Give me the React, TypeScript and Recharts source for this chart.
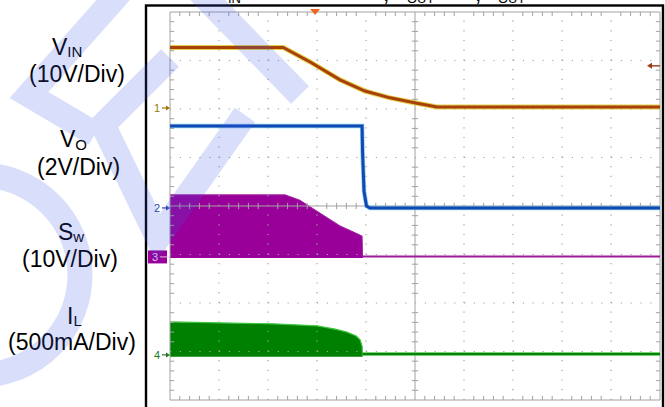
import React from 'react';
import { ComposedChart, XAxis, YAxis, Line, Area, Scatter } from 'recharts';

// every value is in screen divisions: time 0..10, level 0..8
const vinT = [0, 2.31, 2.86, 3.47, 3.98, 4.49, 5.04, 5.45, 10];
const vinV = [7.27, 7.27, 6.97, 6.6, 6.37, 6.23, 6.12, 6.04, 6.04];

const voT = [0, 3.92, 3.93, 3.96, 4.01, 4.08, 10];
const voV = [5.65, 5.65, 5.1, 4.3, 4.0, 3.96, 3.96];

const swT = [0, 2.35, 2.65, 2.96, 3.47, 3.71, 3.92, 3.93];
const swTop = [4.23, 4.23, 4.12, 3.92, 3.59, 3.48, 3.38, 2.93];
const swFloor = 2.93;
const swIdleT = [3.92, 10];
const swIdleV = [2.96, 2.96];

const ilT = [0, 2.1, 3.0, 3.37, 3.61, 3.8, 3.88, 3.92, 3.93];
const ilTop = [1.61, 1.57, 1.53, 1.46, 1.4, 1.32, 1.24, 1.11, 0.89];
const ilFloor = 0.89;
const ilIdleT = [3.93, 10];
const ilIdleV = [0.95, 0.95];

const chNames = ['1', '2', '3', '4'];
const chLevels = [6.02, 3.96, 2.95, 0.93];
const trigTime = 2.96;
const trigLevel = 6.89;

const chColors: Record<string, string> = {
  '1': '#9c7800',
  '2': '#2b4ca6',
  '3': '#990099',
  '4': '#217a21',
};

const pts = (t: number[], v: number[]) => t.map((x, i) => ({ x, y: v[i] }));

// graticule
const MAJOR_X = [1, 2, 3, 4, 6, 7, 8, 9];
const MAJOR_Y = [1, 2, 3, 5, 6, 7];
const AXES_X = [0, 5, 10];
const AXES_Y = [0, 4, 8];
const MINOR_X = Array.from({ length: 51 }, (_, i) => i / 5).filter((_, i) => i % 5 !== 0);
const MINOR_Y = Array.from({ length: 41 }, (_, i) => i / 5).filter((_, i) => i % 5 !== 0);
const T = 0.085;
const C = 0.065;

type Seg = [number, number, number, number];
const segs = (list: Seg[]) =>
  list.flatMap(([x1, y1, x2, y2]) => [
    { x: x1, y: y1 },
    { x: x2, y: y2 },
    { x: x2, y: null },
  ]);

const dottedV = segs(MAJOR_X.map((x) => [x, 0, x, 8] as Seg));
const dottedH = segs(MAJOR_Y.map((y) => [0, y, 10, y] as Seg));
const solidAxes = segs([
  ...AXES_X.map((x) => [x, 0, x, 8] as Seg),
  ...AXES_Y.map((y) => [0, y, 10, y] as Seg),
]);
const minorTicks = segs([
  ...MINOR_X.flatMap((x) => [[x, 8, x, 8 - T], [x, 0, x, T], [x, 4 - C, x, 4 + C]] as Seg[]),
  ...MINOR_Y.flatMap((y) => [[0, y, T, y], [10, y, 10 - T, y], [5 - C, y, 5 + C, y]] as Seg[]),
]);

const markerData = [
  ...chNames.map((name, i) => ({ x: 0, y: chLevels[i], name, kind: name === '3' ? 'box' : 'ch' })),
  { x: trigTime, y: 8, name: 'T', kind: 'trig' },
  { x: 10, y: trigLevel, name: 'L', kind: 'level' },
];

const FONT = '"Liberation Sans", Arial, sans-serif';
const GRID = '#a2a2a2';
const MARGIN = { top: 12, right: 5, bottom: 7, left: 170 };
const layer: React.CSSProperties = { position: 'absolute', left: 0, top: 0 };

const renderMarker = (props: any) => {
  const { cx, cy, payload } = props;
  if (cx == null || cy == null) return <g />;
  const c = chColors[payload.name];
  if (payload.kind === 'trig') {
    return <path d={`M${cx - 5},${cy - 3} L${cx + 5},${cy - 3} L${cx},${cy + 3} Z`} fill="#f26522" />;
  }
  if (payload.kind === 'level') {
    return (
      <g>
        <line x1={cx - 9} y1={cy} x2={cx} y2={cy} stroke="#9a3d12" strokeWidth={1.4} />
        <path d={`M${cx - 13},${cy} L${cx - 8},${cy - 3} L${cx - 8},${cy + 3} Z`} fill="#9a3d12" />
      </g>
    );
  }
  if (payload.kind === 'box') {
    return (
      <g>
        <rect x={cx - 22} y={cy - 6.5} width={19} height={13} fill={c} />
        <text x={cx - 15} y={cy + 4} fontSize={11} fill="#f2d4f2" textAnchor="middle" fontFamily={FONT}>
          {payload.name}
        </text>
        <line x1={cx - 10} y1={cy} x2={cx} y2={cy} stroke="#e8c0e8" strokeWidth={1} />
      </g>
    );
  }
  return (
    <g>
      <text x={cx - 10} y={cy + 4} fontSize={11} fill={c} textAnchor="end" fontFamily={FONT}>
        {payload.name}
      </text>
      <line x1={cx - 8} y1={cy} x2={cx - 2} y2={cy} stroke={c} strokeWidth={1.2} />
      <path d={`M${cx - 4},${cy - 2.5} L${cx},${cy} L${cx - 4},${cy + 2.5} Z`} fill={c} />
    </g>
  );
};

function Labels() {
  const big = { fontSize: 23, fill: '#000', fontFamily: FONT };
  return (
    <svg width={665} height={407} style={layer}>
      <rect x={146} y={5.5} width={517} height={410} fill="#fff" stroke="#000" strokeWidth={2.4} />
      {/* cut-off caption at the top */}
      <g fontFamily={FONT} fill="#000">
        <text x={228} y={3} fontSize={13}>IN</text>
        <text x={383} y={0.5} fontSize={23}>,</text>
        <text x={407} y={3} fontSize={13}>OUT</text>
        <text x={475} y={0.5} fontSize={23}>,</text>
        <text x={498} y={3} fontSize={13}>OUT</text>
      </g>
      <text x={52} y={55} {...big}>
        V<tspan fontSize={15} dy={2}>IN</tspan>
      </text>
      <text x={29} y={82} {...big}>(10V/Div)</text>
      <text x={60} y={147} {...big}>
        V<tspan fontSize={15} dy={3}>O</tspan>
      </text>
      <text x={37} y={175} {...big}>(2V/Div)</text>
      <text x={58} y={240} {...big}>
        S<tspan fontSize={15} dy={2}>w</tspan>
      </text>
      <text x={22} y={267} {...big}>(10V/Div)</text>
      <text x={67} y={324} {...big}>
        I<tspan fontSize={15} dy={2}>L</tspan>
      </text>
      <text x={8} y={350} {...big}>(500mA/Div)</text>
    </svg>
  );
}

function Watermark() {
  return (
    <svg width={665} height={407} style={{ ...layer, pointerEvents: 'none' }}>
      <g opacity={0.19} fill="none" stroke="#3c55e6" strokeWidth={25} strokeLinejoin="miter" strokeMiterlimit={10}>
        <path d="M122 -10 L29 95 L95 134" />
        <path d="M198 -10 L300 95" />
        <path d="M170 58 L103 125 L158 238 L245 115" />
        <circle cx={-20} cy={275} r={100} />
      </g>
    </svg>
  );
}

const lineProps = { dataKey: 'y', dot: false, activeDot: false, isAnimationActive: false } as const;

export default function App() {
  return (
    <div
      style={{
        position: 'absolute',
        left: 0,
        top: 0,
        width: 665,
        height: 407,
        overflow: 'hidden',
        background: '#fff',
      }}
    >
      <Labels />

      {/* pulse trains (SW, IL) */}
      <div style={layer}>
        <ComposedChart width={665} height={407} margin={MARGIN}>
          <XAxis dataKey="x" type="number" domain={[0, 10]} hide />
          <YAxis dataKey="y" type="number" domain={[0, 8]} hide />
          <Area
            data={pts(swT, swTop)}
            dataKey="y"
            type="linear"
            baseValue={swFloor}
            fill="#990099"
            fillOpacity={1}
            stroke="#a320a3"
            strokeWidth={1}
            isAnimationActive={false}
          />
          <Area
            data={pts(ilT, ilTop)}
            dataKey="y"
            type="linear"
            baseValue={ilFloor}
            fill="#008000"
            fillOpacity={1}
            stroke="#3cc43c"
            strokeWidth={1.2}
            isAnimationActive={false}
          />
        </ComposedChart>
      </div>

      {/* graticule drawn over the filled traces */}
      <div style={layer}>
        <ComposedChart width={665} height={407} margin={MARGIN}>
          <XAxis dataKey="x" type="number" domain={[0, 10]} hide />
          <YAxis dataKey="y" type="number" domain={[0, 8]} hide />
          <Line data={dottedV} {...lineProps} stroke={GRID} strokeWidth={1.2} strokeDasharray="1.2 8.5" />
          <Line data={dottedH} {...lineProps} stroke={GRID} strokeWidth={1.2} strokeDasharray="1.2 8.6" />
          <Line data={solidAxes} {...lineProps} stroke={GRID} strokeWidth={1} />
          <Line data={minorTicks} {...lineProps} stroke={GRID} strokeWidth={1} />
        </ComposedChart>
      </div>

      {/* line traces and channel markers */}
      <div style={layer}>
        <ComposedChart width={665} height={407} margin={MARGIN}>
          <XAxis dataKey="x" type="number" domain={[0, 10]} hide />
          <YAxis dataKey="y" type="number" domain={[0, 8]} hide />
          <Line data={pts(swIdleT, swIdleV)} {...lineProps} stroke="#9b1b9b" strokeWidth={2} />
          <Line data={pts(ilIdleT, ilIdleV)} {...lineProps} stroke="#45c845" strokeWidth={3.5} />
          <Line data={pts(ilIdleT, ilIdleV)} {...lineProps} stroke="#0a7f0a" strokeWidth={2} />

          <Line data={pts(voT, voV)} {...lineProps} stroke="#5ec8ea" strokeOpacity={0.75} strokeWidth={4.5} />
          <Line data={pts(voT, voV)} {...lineProps} stroke="#1446b4" strokeWidth={3} />

          <Line data={pts(vinT, vinV)} {...lineProps} stroke="#dcc41c" strokeOpacity={0.8} strokeWidth={5} />
          <Line data={pts(vinT, vinV)} {...lineProps} stroke="#a8400c" strokeWidth={3} />

          <Scatter data={markerData} dataKey="y" shape={renderMarker} isAnimationActive={false} />
        </ComposedChart>
      </div>

      <Watermark />
    </div>
  );
}
